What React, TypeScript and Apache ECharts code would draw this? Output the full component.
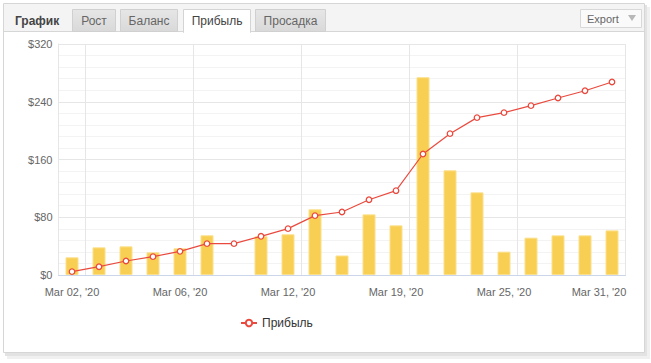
import React, { useEffect, useRef } from "react";
import * as echarts from "echarts";

const categories = [
  "Mar 02, '20", "Mar 03, '20", "Mar 04, '20", "Mar 05, '20", "Mar 06, '20",
  "Mar 09, '20", "Mar 10, '20", "Mar 11, '20", "Mar 12, '20", "Mar 13, '20",
  "Mar 16, '20", "Mar 18, '20", "Mar 19, '20", "Mar 20, '20", "Mar 23, '20",
  "Mar 24, '20", "Mar 25, '20", "Mar 26, '20", "Mar 27, '20", "Mar 30, '20",
  "Mar 31, '20",
];
const barValues: (number | string)[] = [24.5, 38.3, 39.7, 31.4, 37, 55, "-", 53.6, 56.4, 91, 27, 84, 68.8, 274, 145, 114.5, 32.3, 51.7, 54.9, 54.9, 61.8];
const profitValues = [4.6, 11.5, 19.4, 25.4, 32.8, 43.4, 43.4, 53.6, 64.2, 82.2, 87.3, 104.3, 116.8, 167.6, 195.8, 218, 224.9, 234.6, 245.2, 255.3, 267.4];
const yTicks = [0, 80, 160, 240, 320];
const tabs = ["Рост", "Баланс", "Прибыль", "Просадка"];
const activeTab = "Прибыль";
const legendName = "Прибыль";

const FONT = "'Liberation Sans', Arial, sans-serif";

export default function App() {
  const ref = useRef<HTMLDivElement>(null);
  useEffect(() => {
    document.body.style.margin = "0";
    const chart = echarts.init(ref.current!, null, { renderer: "svg" });
    const tabBoxes = [
      { x: 72.5, w: 43 },
      { x: 120.5, w: 57 },
      { x: 183.5, w: 67 },
      { x: 255.5, w: 70 },
    ];
    const tabGraphics: any[] = [];
    tabs.forEach((t, i) => {
      const b = tabBoxes[i];
      const active = t === activeTab;
      tabGraphics.push({
        type: "rect",
        shape: { x: b.x, y: 9.5, width: b.w, height: active ? 23 : 22 },
        style: active
          ? { fill: "#ffffff", stroke: "#d4d4d4", lineWidth: 1 }
          : {
              fill: new echarts.graphic.LinearGradient(0, 0, 0, 1, [
                { offset: 0, color: "#e6e6e6" },
                { offset: 1, color: "#d9d9d9" },
              ]),
              stroke: "#d0d0d0",
              lineWidth: 1,
            },
        z: 2,
      });
      if (active) {
        tabGraphics.push({
          type: "rect",
          shape: { x: b.x + 0.5, y: 30, width: b.w - 1, height: 4 },
          style: { fill: "#ffffff" },
          z: 3,
        });
      }
      tabGraphics.push({
        type: "text",
        x: b.x + b.w / 2,
        y: 21,
        style: {
          text: t,
          fill: active ? "#444" : "#666",
          font: `12px ${FONT}`,
          align: "center",
          verticalAlign: "middle",
        },
        z: 4,
      });
    });

    chart.setOption({
      animation: false,
      backgroundColor: "transparent",
      graphic: [
        { type: "rect", shape: { x: 7, y: 7, width: 643, height: 352 }, style: { fill: "#f0f0f0" }, z: -10 },
        { type: "rect", shape: { x: 5, y: 5, width: 642, height: 351 }, style: { fill: "#e3e3e3" }, z: -9 },
        { type: "rect", shape: { x: 3.5, y: 3.5, width: 641, height: 349 }, style: { fill: "#ffffff", stroke: "#d6d6d6", lineWidth: 1 }, z: -8 },
        { type: "rect", shape: { x: 4, y: 4, width: 640, height: 27.5 }, style: { fill: "#f4f4f4" }, z: -7 },
        { type: "line", shape: { x1: 4, y1: 31.5, x2: 644, y2: 31.5 }, style: { stroke: "#d6d6d6", lineWidth: 1 }, z: 1 },
        {
          type: "text",
          x: 15,
          y: 21,
          style: { text: "График", fill: "#444", font: `bold 12px ${FONT}`, verticalAlign: "middle" },
          z: 4,
        },
        ...tabGraphics,
        { type: "rect", shape: { x: 580.5, y: 9.5, width: 61, height: 18 }, style: { fill: "#fafafa", stroke: "#d8d8d8", lineWidth: 1 }, z: 2 },
        {
          type: "text",
          x: 587,
          y: 19,
          style: { text: "Export", fill: "#666", font: `11px ${FONT}`, verticalAlign: "middle" },
          z: 4,
        },
        { type: "polygon", shape: { points: [[628, 15], [636, 15], [632, 21]] }, style: { fill: "#b8b8b8" }, z: 4 },
      ],
      grid: { left: 58.5, right: 25.5, top: 44, bottom: 88, containLabel: false, outerBoundsMode: "none" },
      legend: {
        data: [legendName],
        left: 235,
        top: 312,
        itemWidth: 16,
        itemHeight: 8,
        selectedMode: false,
        textStyle: { fontSize: 12, color: "#333", fontFamily: FONT },
      },
      xAxis: {
        type: "category",
        data: categories,
        boundaryGap: true,
        axisLine: { show: true, lineStyle: { color: "#ccd6eb", width: 1 } },
        axisTick: { show: false },
        axisLabel: {
          interval: 3,
          margin: 11,
          color: "#666",
          fontSize: 11,
          fontFamily: FONT,
          formatter: (v: string, i: number) => (i === categories.length - 1 ? `{last|${v}}` : v),
          rich: { last: { padding: [0, 26, 0, 0], color: "#666", fontSize: 11, fontFamily: FONT } },
        },
        splitLine: {
          show: true,
          interval: (i: number) => i % 4 === 1,
          lineStyle: { color: "#e6e6e6", width: 1 },
        },
      },
      yAxis: {
        type: "value",
        min: yTicks[0],
        max: yTicks[yTicks.length - 1],
        interval: 80,
        axisLine: { show: true, lineStyle: { color: "#e6e6e6" } },
        axisTick: { show: false },
        axisLabel: {
          margin: 6,
          color: "#666",
          fontSize: 11,
          fontFamily: FONT,
          formatter: (v: number) => "$" + v,
        },
        splitLine: { show: true, lineStyle: { color: "#e6e6e6", width: 1 } },
        minorTick: { show: false, splitNumber: 5 },
        minorSplitLine: { show: true, lineStyle: { color: "#f3f3f3", width: 1 } },
      },
      series: [
        {
          name: "Дневная прибыль",
          type: "bar",
          data: barValues,
          barWidth: 13,
          itemStyle: { color: "#f8cf52", borderColor: "#fbe08c", borderWidth: 1 },
          z: 2,
        },
        {
          name: legendName,
          type: "line",
          data: profitValues,
          symbol: "circle",
          symbolSize: 5.5,
          lineStyle: { color: "#ea4a3e", width: 1.2 },
          itemStyle: { color: "#ffffff", borderColor: "#ea4a3e", borderWidth: 1.3 },
          z: 5,
        },
      ],
    });
    return () => chart.dispose();
  }, []);
  return <div ref={ref} style={{ position: "absolute", left: 0, top: 0, width: 651, height: 363 }} />;
}
